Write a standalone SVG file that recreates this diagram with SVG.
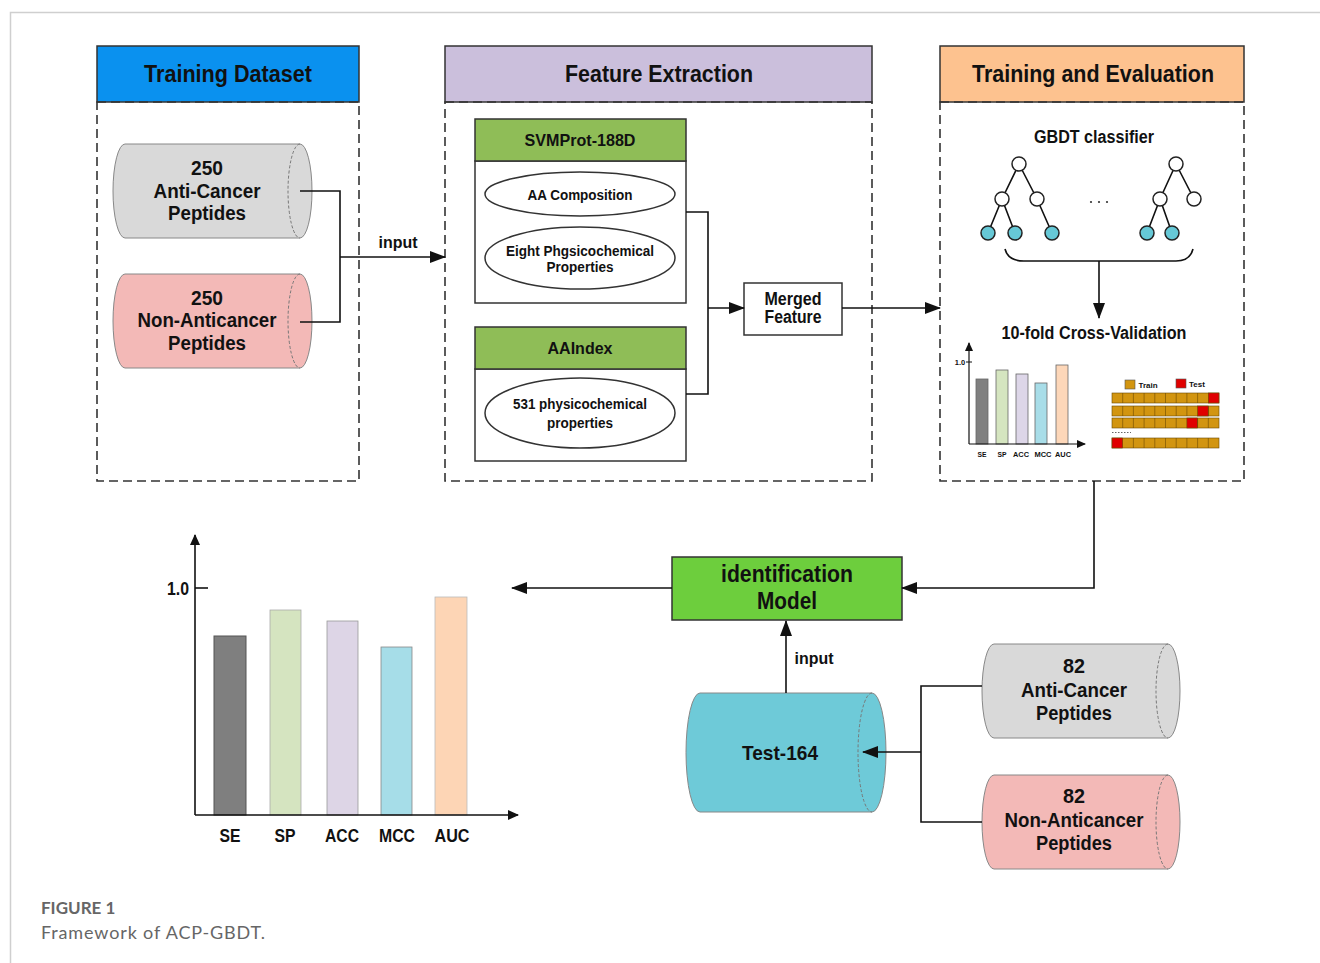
<svg xmlns="http://www.w3.org/2000/svg" width="1320" height="963" viewBox="0 0 1320 963">
<style>
text{font-family:"Liberation Sans",Arial,sans-serif;font-weight:bold;fill:#111;text-anchor:middle}
.hdr{font-size:23px}
.cyl{font-size:20px}
.sub{font-size:17px}
.ell{font-size:14.5px}
.mid{font-size:18px}
.sm{font-size:8px}
.frame{stroke:#cfcfcf;stroke-width:1.5;fill:none}
.dash{fill:none;stroke:#333;stroke-width:1.6;stroke-dasharray:9 5}
.box{stroke:#333;stroke-width:1.5}
.ln{fill:none;stroke:#111;stroke-width:1.6}
.cylS{stroke:#888;stroke-width:1}
.inner{fill:none;stroke:#777;stroke-width:1;stroke-dasharray:3 2}
.nd{fill:#fff;stroke:#222;stroke-width:1.5}
.lf{fill:#66c8d6;stroke:#222;stroke-width:1.5}
.br{stroke:#666;stroke-width:0.8}
.cap{font-family:Lato,"Open Sans",sans-serif;text-anchor:start;fill:#666}
</style>
<defs>
<marker id="ar" markerUnits="userSpaceOnUse" markerWidth="16" markerHeight="12" refX="15" refY="6" orient="auto"><path d="M0,0 L16,6 L0,12 Z" fill="#111"/></marker>
<marker id="ars" markerUnits="userSpaceOnUse" markerWidth="11" markerHeight="10" refX="10" refY="5" orient="auto"><path d="M0,0 L11,5 L0,10 Z" fill="#111"/></marker>
<marker id="art" markerUnits="userSpaceOnUse" markerWidth="9" markerHeight="8" refX="8" refY="4" orient="auto"><path d="M0,0 L9,4 L0,8 Z" fill="#111"/></marker>
</defs>
<rect width="1320" height="963" fill="#fff"/>
<path class="frame" d="M10.5,963 V12.5 H1320"/>

<!-- Training Dataset panel -->
<g id="training-dataset">
<rect x="97" y="46" width="262" height="56" fill="#0a91ef" class="box"/>
<text class="hdr" x="228" y="82" textLength="168" lengthAdjust="spacingAndGlyphs">Training Dataset</text>
<rect x="97" y="102" width="262" height="379" class="dash"/>
</g>
<g id="train-anticancer">
<path d="M125,144 H300 A12,47 0 0 1 300,238 H125 A12,47 0 0 1 125,144 Z" fill="#d9d9d9" class="cylS"/>
<path d="M300,144 A12,47 0 0 0 300,238" class="inner"/>
<text class="cyl" x="207" y="175" textLength="32" lengthAdjust="spacingAndGlyphs">250</text>
<text class="cyl" x="207" y="198" textLength="107" lengthAdjust="spacingAndGlyphs">Anti-Cancer</text>
<text class="cyl" x="207" y="220" textLength="78" lengthAdjust="spacingAndGlyphs">Peptides</text>
</g>
<g id="train-nonanticancer">
<path d="M125,274 H300 A12,47 0 0 1 300,368 H125 A12,47 0 0 1 125,274 Z" fill="#f3b9b7" class="cylS"/>
<path d="M300,274 A12,47 0 0 0 300,368" class="inner"/>
<text class="cyl" x="207" y="305" textLength="32" lengthAdjust="spacingAndGlyphs">250</text>
<text class="cyl" x="207" y="327" textLength="139" lengthAdjust="spacingAndGlyphs">Non-Anticancer</text>
<text class="cyl" x="207" y="350" textLength="78" lengthAdjust="spacingAndGlyphs">Peptides</text>
</g>

<!-- Feature Extraction panel -->
<g id="feature-extraction">
<rect x="445" y="46" width="427" height="56" fill="#cbbfdc" class="box"/>
<text class="hdr" x="659" y="82" textLength="188" lengthAdjust="spacingAndGlyphs">Feature Extraction</text>
<rect x="445" y="102" width="427" height="379" class="dash"/>
</g>
<g id="svmprot">
<rect x="475" y="161" width="211" height="142" fill="#fff" class="box"/>
<rect x="475" y="119" width="211" height="42" fill="#8fbd57" class="box"/>
<text class="sub" x="580" y="146" textLength="111" lengthAdjust="spacingAndGlyphs">SVMProt-188D</text>
<ellipse cx="580" cy="194" rx="95" ry="22" fill="#fff" class="box"/>
<text class="ell" x="580" y="200" textLength="105" lengthAdjust="spacingAndGlyphs">AA Composition</text>
<ellipse cx="580" cy="258" rx="95" ry="31" fill="#fff" class="box"/>
<text class="ell" x="580" y="256" textLength="148" lengthAdjust="spacingAndGlyphs">Eight Phgsicochemical</text>
<text class="ell" x="580" y="272" textLength="67" lengthAdjust="spacingAndGlyphs">Properties</text>
</g>
<g id="aaindex">
<rect x="475" y="369" width="211" height="92" fill="#fff" class="box"/>
<rect x="475" y="327" width="211" height="42" fill="#8fbd57" class="box"/>
<text class="sub" x="580" y="354" textLength="65" lengthAdjust="spacingAndGlyphs">AAIndex</text>
<ellipse cx="580" cy="413" rx="95" ry="35" fill="#fff" class="box"/>
<text class="ell" x="580" y="409" textLength="134" lengthAdjust="spacingAndGlyphs">531 physicochemical</text>
<text class="ell" x="580" y="428" textLength="66" lengthAdjust="spacingAndGlyphs">properties</text>
</g>
<g id="merged-feature">
<rect x="744" y="283" width="98" height="52" fill="#fff" class="box"/>
<text class="mid" x="793" y="305" textLength="57" lengthAdjust="spacingAndGlyphs">Merged</text>
<text class="mid" x="793" y="323" textLength="57" lengthAdjust="spacingAndGlyphs">Feature</text>
</g>

<!-- Training and Evaluation panel -->
<g id="training-evaluation">
<rect x="940" y="46" width="304" height="56" fill="#fdc28f" class="box"/>
<text class="hdr" x="1093" y="82" textLength="242" lengthAdjust="spacingAndGlyphs">Training and Evaluation</text>
<rect x="940" y="102" width="304" height="379" class="dash"/>
<text class="mid" x="1094" y="143" textLength="120" lengthAdjust="spacingAndGlyphs">GBDT classifier</text>
</g>
<g id="gbdt-trees">
<path class="ln" d="M1019,164 L1002,199 M1019,164 L1037,199 M1002,199 L988,233 M1002,199 L1015,233 M1037,199 L1052,233 M1176,164 L1160,199 M1176,164 L1194,199 M1160,199 L1147,233 M1160,199 L1172,233"/>
<circle class="nd" cx="1019" cy="164" r="7"/>
<circle class="nd" cx="1002" cy="199" r="7"/>
<circle class="nd" cx="1037" cy="199" r="7"/>
<circle class="lf" cx="988" cy="233" r="7"/>
<circle class="lf" cx="1015" cy="233" r="7"/>
<circle class="lf" cx="1052" cy="233" r="7"/>
<circle class="nd" cx="1176" cy="164" r="7"/>
<circle class="nd" cx="1160" cy="199" r="7"/>
<circle class="nd" cx="1194" cy="199" r="7"/>
<circle class="lf" cx="1147" cy="233" r="7"/>
<circle class="lf" cx="1172" cy="233" r="7"/>
<g fill="#333"><circle cx="1091" cy="202" r="1.1"/><circle cx="1099" cy="202" r="1.1"/><circle cx="1107" cy="202" r="1.1"/></g>
<path class="ln" d="M1005,249 Q1008,261 1024,261 L1176,261 Q1190,261 1193,249"/>
</g>
<g id="cross-validation">
<text class="mid" x="1094" y="339" textLength="185" lengthAdjust="spacingAndGlyphs">10-fold Cross-Validation</text>
<rect x="976" y="379" width="12" height="65" fill="#808080" class="br"/>
<rect x="996" y="370" width="12" height="74" fill="#d5e5c0" class="br"/>
<rect x="1016" y="374" width="12" height="70" fill="#ddd6e8" class="br"/>
<rect x="1035" y="383" width="12" height="61" fill="#a8dde8" class="br"/>
<rect x="1056" y="365" width="12" height="79" fill="#fdd7b9" class="br"/>
<path class="ln" style="stroke-width:1.2" d="M969,444 V343" marker-end="url(#art)"/>
<path class="ln" style="stroke-width:1.2" d="M969,444 H1085" marker-end="url(#art)"/>
<path class="ln" style="stroke-width:1" d="M966,362 H972"/>
<text class="sm" x="960" y="365" style="font-size:7.5px">1.0</text>
<text class="sm" x="982" y="457" textLength="9" lengthAdjust="spacingAndGlyphs">SE</text>
<text class="sm" x="1002" y="457" textLength="9" lengthAdjust="spacingAndGlyphs">SP</text>
<text class="sm" x="1021" y="457" textLength="16" lengthAdjust="spacingAndGlyphs">ACC</text>
<text class="sm" x="1043" y="457" textLength="17" lengthAdjust="spacingAndGlyphs">MCC</text>
<text class="sm" x="1063" y="457" textLength="16" lengthAdjust="spacingAndGlyphs">AUC</text>
<rect x="1125" y="380" width="10" height="9" fill="#d29510" stroke="#555" stroke-width="0.6"/>
<text class="sm" x="1148" y="388">Train</text>
<rect x="1176" y="379" width="10" height="9" fill="#e00000" stroke="#555" stroke-width="0.6"/>
<text class="sm" x="1197" y="387">Test</text>
<g fill="#d29510" stroke="#6b4a00" stroke-width="0.6">
<rect x="1112" y="393" width="107" height="10"/>
<rect x="1112" y="406" width="107" height="10"/>
<rect x="1112" y="418" width="107" height="10"/>
<rect x="1112" y="438" width="107" height="10"/>
</g>
<g fill="#e00000" stroke="#6b4a00" stroke-width="0.6">
<rect x="1208.3" y="393" width="10.7" height="10"/>
<rect x="1197.6" y="406" width="10.7" height="10"/>
<rect x="1186.9" y="418" width="10.7" height="10"/>
<rect x="1112" y="438" width="10.7" height="10"/>
</g>
<path stroke="#6b4a00" stroke-width="0.6" d="M1122.7,393 V403 M1133.4,393 V403 M1144.1,393 V403 M1154.8,393 V403 M1165.5,393 V403 M1176.2,393 V403 M1186.9,393 V403 M1197.6,393 V403 M1122.7,406 V416 M1133.4,406 V416 M1144.1,406 V416 M1154.8,406 V416 M1165.5,406 V416 M1176.2,406 V416 M1186.9,406 V416 M1208.3,406 V416 M1122.7,418 V428 M1133.4,418 V428 M1144.1,418 V428 M1154.8,418 V428 M1165.5,418 V428 M1176.2,418 V428 M1197.6,418 V428 M1208.3,418 V428 M1133.4,438 V448 M1144.1,438 V448 M1154.8,438 V448 M1165.5,438 V448 M1176.2,438 V448 M1186.9,438 V448 M1197.6,438 V448 M1208.3,438 V448"/>
<path d="M1112,432.5 H1131" stroke="#666" stroke-width="1" stroke-dasharray="1.5 1.5"/>
</g>

<!-- Identification model -->
<g id="identification-model">
<rect x="672" y="557" width="230" height="63" fill="#6dce3d" class="box"/>
<text class="hdr" x="787" y="582" textLength="132" lengthAdjust="spacingAndGlyphs">identification</text>
<text class="hdr" x="787" y="609" textLength="60" lengthAdjust="spacingAndGlyphs">Model</text>
</g>

<!-- Result chart -->
<g id="result-chart">
<rect x="214" y="636" width="32" height="179" fill="#7f7f7f" stroke="#555" stroke-width="1"/>
<rect x="270" y="610" width="31" height="205" fill="#d5e4c0" stroke="#aaa" stroke-width="0.8"/>
<rect x="327" y="621" width="31" height="194" fill="#ddd5e6" stroke="#999" stroke-width="0.8"/>
<rect x="381" y="647" width="31" height="168" fill="#a6dde8" stroke="#888" stroke-width="0.8"/>
<rect x="435" y="597" width="32" height="218" fill="#fdd5b5" stroke="#bbb" stroke-width="0.8"/>
<path class="ln" d="M195,815 V535" marker-end="url(#ars)"/>
<path class="ln" d="M195,815 H518" marker-end="url(#ars)"/>
<path class="ln" d="M195,588 H208"/>
<text class="mid" x="178" y="595" textLength="22" lengthAdjust="spacingAndGlyphs">1.0</text>
<text class="mid" x="230" y="842" textLength="21" lengthAdjust="spacingAndGlyphs">SE</text>
<text class="mid" x="285" y="842" textLength="21" lengthAdjust="spacingAndGlyphs">SP</text>
<text class="mid" x="342" y="842" textLength="34" lengthAdjust="spacingAndGlyphs">ACC</text>
<text class="mid" x="397" y="842" textLength="36" lengthAdjust="spacingAndGlyphs">MCC</text>
<text class="mid" x="452" y="842" textLength="35" lengthAdjust="spacingAndGlyphs">AUC</text>
</g>

<!-- Test set -->
<g id="test-164">
<path d="M700,693 H872 A14,59.5 0 0 1 872,812 H700 A14,59.5 0 0 1 700,693 Z" fill="#6ecad8" class="cylS"/>
<path d="M872,693 A14,59.5 0 0 0 872,812" class="inner"/>
<text x="780" y="760" style="font-size:21px" textLength="76" lengthAdjust="spacingAndGlyphs">Test-164</text>
</g>
<g id="test-anticancer">
<path d="M994,644 H1168 A12,47 0 0 1 1168,738 H994 A12,47 0 0 1 994,644 Z" fill="#d9d9d9" class="cylS"/>
<path d="M1168,644 A12,47 0 0 0 1168,738" class="inner"/>
<text class="cyl" x="1074" y="673" textLength="22" lengthAdjust="spacingAndGlyphs">82</text>
<text class="cyl" x="1074" y="697" textLength="106" lengthAdjust="spacingAndGlyphs">Anti-Cancer</text>
<text class="cyl" x="1074" y="720" textLength="76" lengthAdjust="spacingAndGlyphs">Peptides</text>
</g>
<g id="test-nonanticancer">
<path d="M994,775 H1168 A12,47 0 0 1 1168,869 H994 A12,47 0 0 1 994,775 Z" fill="#f3b9b7" class="cylS"/>
<path d="M1168,775 A12,47 0 0 0 1168,869" class="inner"/>
<text class="cyl" x="1074" y="803" textLength="22" lengthAdjust="spacingAndGlyphs">82</text>
<text class="cyl" x="1074" y="827" textLength="139" lengthAdjust="spacingAndGlyphs">Non-Anticancer</text>
<text class="cyl" x="1074" y="850" textLength="76" lengthAdjust="spacingAndGlyphs">Peptides</text>
</g>

<!-- Connectors -->
<g id="connectors">
<path class="ln" d="M300,191 H340 V322 H300"/>
<path class="ln" d="M340,257 H445" marker-end="url(#ar)"/>
<text class="sub" x="398" y="248" textLength="39" lengthAdjust="spacingAndGlyphs">input</text>
<path class="ln" d="M686,212 H708 V394 H686"/>
<path class="ln" d="M708,308 H744" marker-end="url(#ar)"/>
<path class="ln" d="M842,308 H940" marker-end="url(#ar)"/>
<path class="ln" d="M1099,261 V318" marker-end="url(#ar)"/>
<path class="ln" d="M1094,481 V588 H902" marker-end="url(#ar)"/>
<path class="ln" d="M672,588 H512" marker-end="url(#ar)"/>
<path class="ln" d="M786,693 V621" marker-end="url(#ar)"/>
<text class="sub" x="814" y="664" textLength="39" lengthAdjust="spacingAndGlyphs">input</text>
<path class="ln" d="M982,686 H921 V822 H982"/>
<path class="ln" d="M921,752 H863" marker-end="url(#ar)"/>
</g>

<!-- Caption -->
<text class="cap" x="41" y="914" style="font-size:17px;font-weight:bold">FIGURE 1</text>
<text class="cap" x="41" y="939" style="font-size:18px;font-weight:normal" textLength="224">Framework of ACP-GBDT.</text>
</svg>
